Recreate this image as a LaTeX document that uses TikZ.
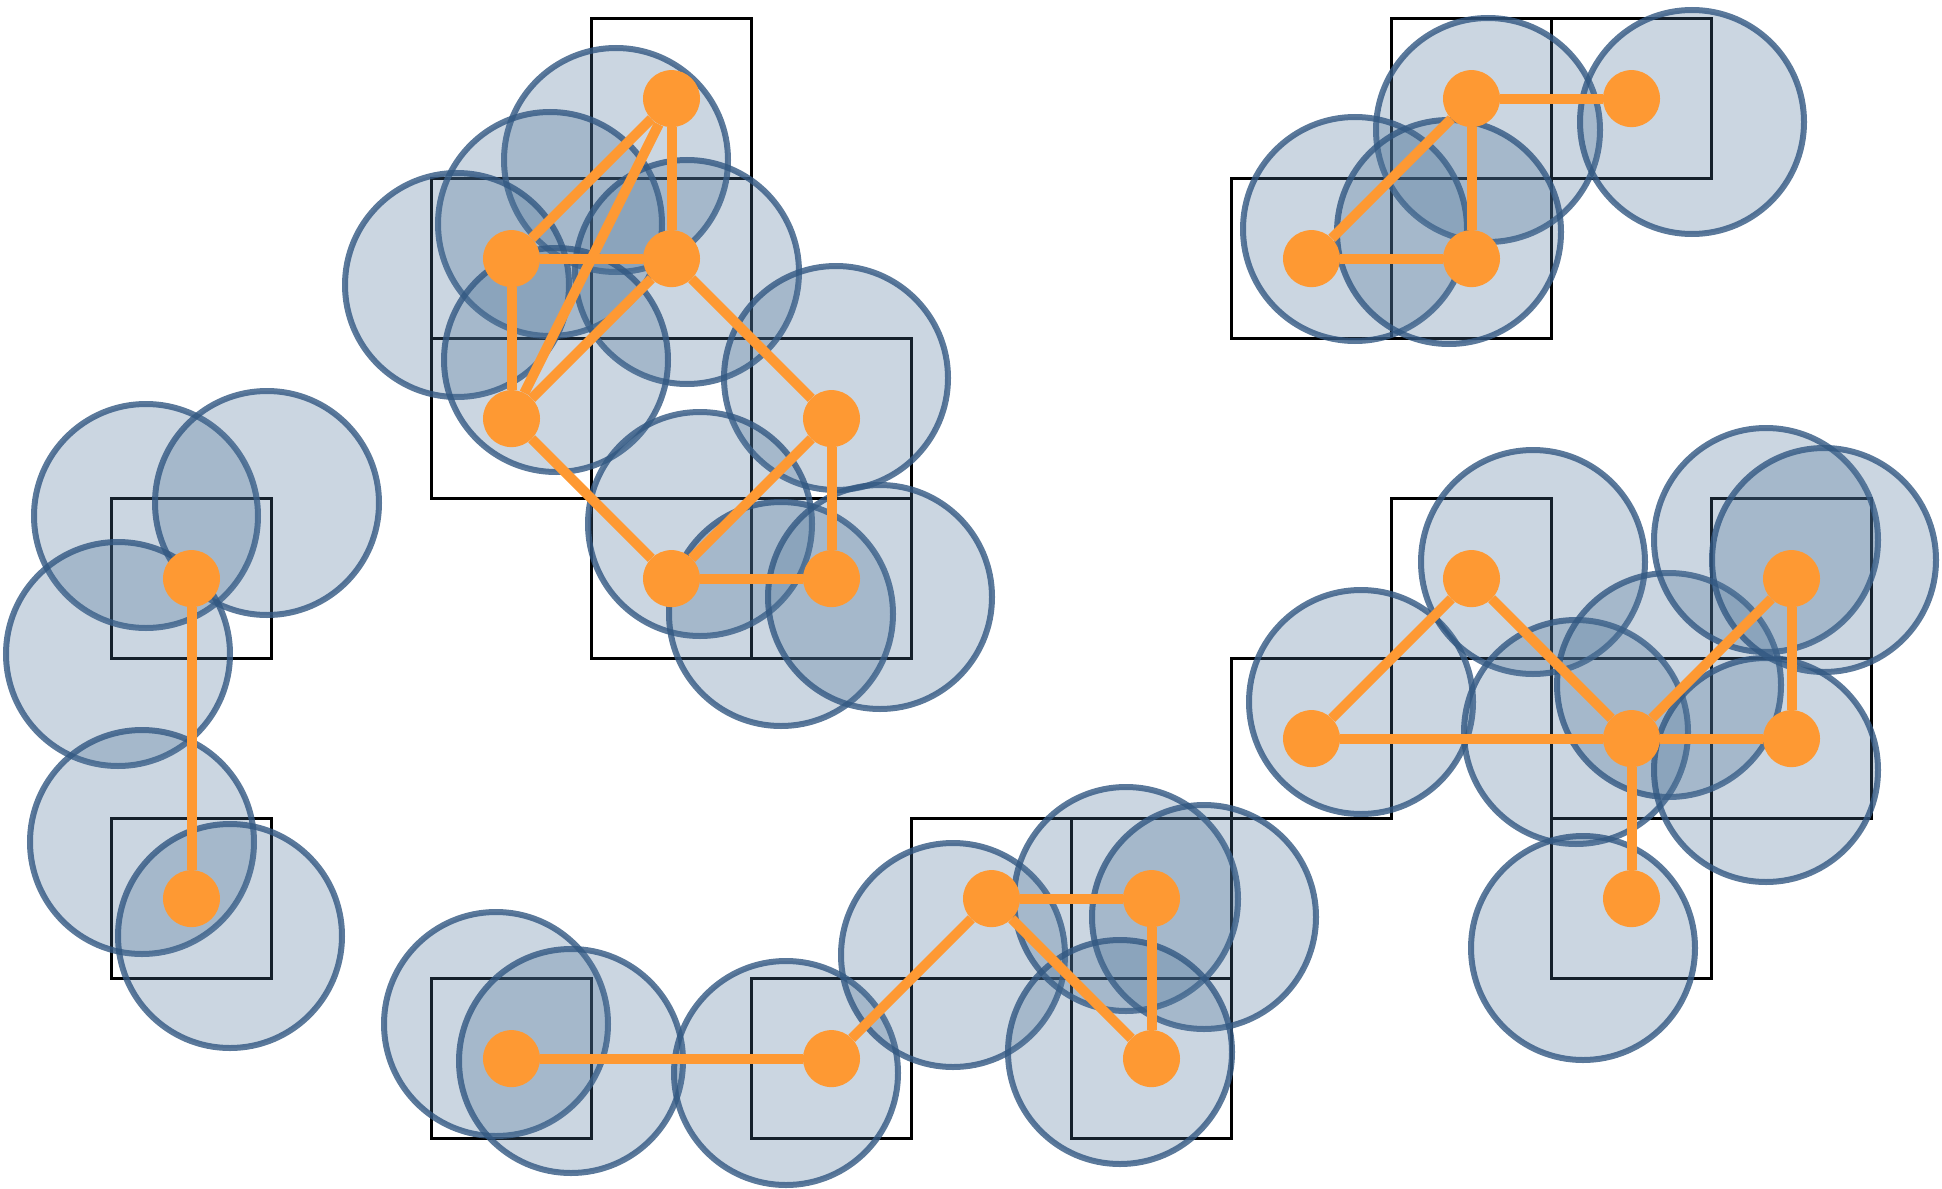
\documentclass[tikz,border=0pt]{standalone}
\definecolor{blobfill}{RGB}{75,113,151}
\definecolor{blobline}{RGB}{50,88,130}
\definecolor{orng}{RGB}{254,153,51}
\tikzset{
  cellbox/.style={draw=black, line width=2.8pt},
  blob/.style={fill=blobfill, fill opacity=0.29, draw=blobline, draw opacity=0.8, line width=6pt},
  dot/.style={circle, fill=orng, draw=none, minimum size=57pt, inner sep=0pt},
  link/.style={draw=orng, line width=10pt}
}
\begin{document}
\begin{tikzpicture}[x=1pt,y=-1pt]
\useasboundingbox (0,0) rectangle (1942,1188);
% grid cells
\foreach \c/\r in {3/0,2/1,3/1,2/2,4/2,3/3,4/3, 8/0,9/0,7/1,8/1, 0/3,0/5, 2/6,4/6,5/5,6/5,6/6, 8/3,7/4,9/4,10/3,10/4,9/5}
  \draw[cellbox] ({111.5+160*\c},{18.6+160*\r}) rectangle ++(160,160);
% translucent circles
\foreach \x/\y in {616/160,550/224,457/285,687/272,556/360,836/378,700/524,781/614,880/597,
  1488/130,1692/122,1355/229,1449/232,
  146/516,267/503,118/654,142/842,230/936,
  496/1024,571/1061,786/1073,953/955,1126/899,1204/917,1120/1052,
  1361/702,1533/562,1576/732,1669/685,1766/540,1824/560,1766/770,1583/948}
  \draw[blob] (\x,\y) circle[radius=112];
% nodes
\foreach \c/\r in {3/0,2/1,3/1,2/2,4/2,3/3,4/3, 8/0,9/0,7/1,8/1, 0/3,0/5, 2/6,4/6,5/5,6/5,6/6, 8/3,7/4,9/4,10/3,10/4,9/5}
  \node[dot] (n\c-\r) at ({191.5+160*\c},{98.6+160*\r}) {};
% connectors
\foreach \a/\b in {3-0/2-1,3-0/3-1,3-0/2-2,2-1/3-1,2-1/2-2,3-1/2-2,3-1/4-2,2-2/3-3,4-2/3-3,4-2/4-3,3-3/4-3,
  8-0/9-0,8-0/7-1,8-0/8-1,7-1/8-1,
  0-3/0-5,
  2-6/4-6,4-6/5-5,5-5/6-5,5-5/6-6,6-5/6-6,
  8-3/7-4,8-3/9-4,7-4/9-4,9-4/10-3,9-4/10-4,10-3/10-4,9-4/9-5}
  \draw[link] (n\a) -- (n\b);
\end{tikzpicture}
\end{document}
